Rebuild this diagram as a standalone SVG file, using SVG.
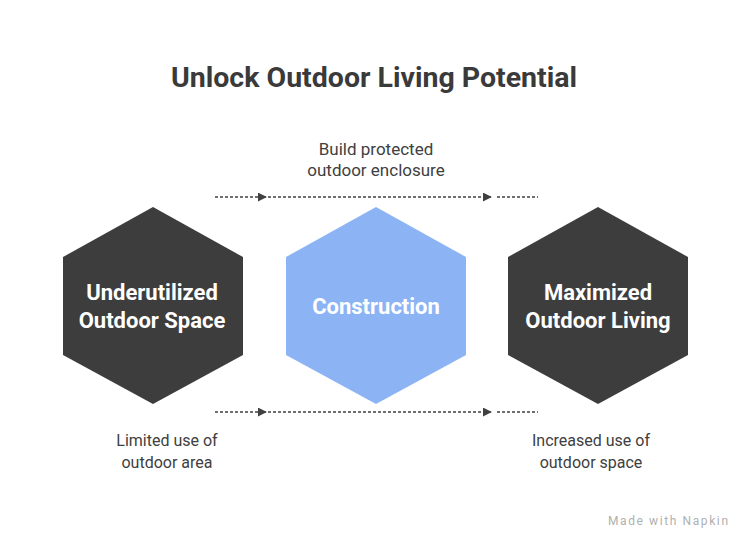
<svg xmlns="http://www.w3.org/2000/svg" width="752" height="543" viewBox="0 0 752 543">
<defs>
<style>
.title{font-family:Roboto,"Liberation Sans",sans-serif;font-weight:700;font-size:28.5px;fill:#3a3a3a;text-anchor:middle}
.node{font-family:Roboto,"Liberation Sans",sans-serif;font-weight:700;font-size:22px;fill:#ffffff;text-anchor:middle}
.lbl{font-family:Roboto,"Liberation Sans",sans-serif;font-size:16px;fill:#404040;text-anchor:middle}
.lblt{font-family:Roboto,"Liberation Sans",sans-serif;font-size:17px;fill:#404040;text-anchor:middle}
.dark{fill:#3d3d3d}
.blue{fill:#8cb4f5}
.conn{stroke:#404040;stroke-width:1.3;stroke-dasharray:3 2;fill:none}
.wm{font-family:Roboto,"Liberation Sans",sans-serif;font-size:12px;letter-spacing:1.6px;fill:#b0b0b0}
</style>
<marker id="arr" viewBox="0 0 10 10" refX="9" refY="5" markerWidth="9" markerHeight="9" markerUnits="userSpaceOnUse" orient="auto">
<path d="M0,0 L10,5 L0,10 Z" fill="#404040"/>
</marker>
</defs>
<rect width="752" height="543" fill="#ffffff"/>
<text class="title" x="374" y="87">Unlock Outdoor Living Potential</text>
<g id="connectors">
<line class="conn" x1="215" y1="197" x2="266" y2="197" marker-end="url(#arr)"/>
<line class="conn" x1="268" y1="197" x2="491" y2="197" marker-end="url(#arr)"/>
<line class="conn" x1="497" y1="197" x2="538" y2="197"/>
<line class="conn" x1="215" y1="412" x2="266" y2="412" marker-end="url(#arr)"/>
<line class="conn" x1="268" y1="412" x2="491" y2="412" marker-end="url(#arr)"/>
<line class="conn" x1="497" y1="412" x2="538" y2="412"/>
</g>
<g id="node-underutilized">
<polygon class="dark" points="153,207 243,257 243,355 153,404 63,355 63,257"/>
<text class="node" x="152" y="300">Underutilized</text>
<text class="node" x="152" y="328">Outdoor Space</text>
</g>
<g id="node-construction">
<polygon class="blue" points="376,207 466,257 466,355 376,404 286,355 286,257"/>
<text class="node" x="376" y="314">Construction</text>
</g>
<g id="node-maximized">
<polygon class="dark" points="598,207 688,257 688,355 598,404 508,355 508,257"/>
<text class="node" x="598" y="300">Maximized</text>
<text class="node" x="598" y="328">Outdoor Living</text>
</g>
<g id="label-top">
<text class="lblt" x="376" y="155">Build protected</text>
<text class="lblt" x="376" y="176">outdoor enclosure</text>
</g>
<g id="label-left">
<text class="lbl" x="167" y="446">Limited use of</text>
<text class="lbl" x="167" y="468">outdoor area</text>
</g>
<g id="label-right">
<text class="lbl" x="591" y="446">Increased use of</text>
<text class="lbl" x="591" y="468">outdoor space</text>
</g>
<text class="wm" x="608" y="525">Made with Napkin</text>
</svg>
